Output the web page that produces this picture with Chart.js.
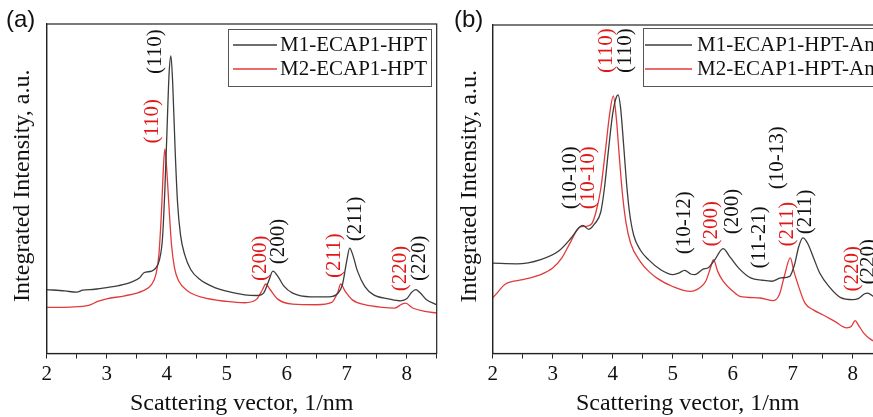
<!DOCTYPE html>
<html>
<head>
<meta charset="utf-8">
<script src="https://cdn.jsdelivr.net/npm/chart.js@4"></script>
<style>
  html, body { margin: 0; padding: 0; background: #fff; overflow: hidden; width: 873px; height: 417px; }
  .panel { position: absolute; top: 0; }
  .tag { position: absolute; top: 7px; font: 24px/24px "Liberation Sans", Arial, sans-serif; color: #111; }
</style>
</head>
<body>
<div class="panel" style="left:0"><canvas id="chartA" width="440" height="417"></canvas></div>
<div class="panel" style="left:440px"><canvas id="chartB" width="446" height="417"></canvas></div>
<div class="tag" style="left:6px">(a)</div>
<div class="tag" style="left:454px">(b)</div>
<script>
// panel (a): scattering vector q (1/nm) and intensity (a.u.)
const qA1 = [2.0, 2.3, 2.5, 2.6, 2.8, 3.0, 3.2, 3.4, 3.55, 3.62, 3.75, 3.82, 3.88, 3.93, 3.97, 4.0, 4.04, 4.07, 4.1, 4.14, 4.18, 4.23, 4.3, 4.4, 4.55, 4.8, 5.0, 5.3, 5.5, 5.62, 5.7, 5.77, 5.85, 5.95, 6.1, 6.4, 6.7, 6.85, 6.93, 7.0, 7.05, 7.1, 7.18, 7.3, 7.45, 7.7, 7.9, 8.0, 8.08, 8.15, 8.22, 8.32, 8.5];
const iA1 = [19.4, 19.0, 18.6, 19.2, 19.5, 20.0, 20.6, 21.6, 23.0, 24.5, 25.0, 26.0, 28.5, 35, 50, 65, 85, 90.3, 82, 62, 46, 36, 30, 25.5, 22.5, 20.0, 18.9, 17.8, 17.6, 18.5, 22, 25.0, 23.5, 20.5, 18.3, 17.2, 17.2, 18.2, 21, 28, 32.0, 30, 25, 20.4, 17.8, 16.6, 16.0, 16.6, 18.5, 19.4, 18.5, 16.5, 14.8];
const qA2 = [2.0, 2.4, 2.7, 2.85, 3.0, 3.3, 3.6, 3.75, 3.82, 3.87, 3.91, 3.95, 3.97, 4.0, 4.04, 4.08, 4.13, 4.2, 4.35, 4.6, 5.0, 5.3, 5.5, 5.6, 5.65, 5.72, 5.85, 6.1, 6.5, 6.75, 6.85, 6.9, 6.97, 7.1, 7.3, 7.6, 7.8, 7.92, 7.98, 8.1, 8.3, 8.5];
const iA2 = [14.0, 14.1, 14.6, 15.8, 16.6, 17.5, 19.0, 21.0, 24, 30, 42, 58, 62.1, 56, 44, 33, 26, 22, 19, 17, 15.8, 15.4, 16.5, 19.5, 21.1, 19.5, 16.5, 15.0, 14.8, 15.5, 18.5, 21.1, 19.0, 16.2, 14.8, 14.0, 13.8, 15.0, 15.3, 13.8, 12.8, 12.3];

// panel (b): annealed samples
const qB1 = [2.0, 2.4, 2.8, 3.1, 3.3, 3.45, 3.5, 3.6, 3.7, 3.8, 3.86, 3.93, 4.0, 4.06, 4.09, 4.13, 4.18, 4.23, 4.28, 4.35, 4.46, 4.6, 4.8, 5.0, 5.1, 5.2, 5.3, 5.37, 5.5, 5.6, 5.7, 5.84, 5.95, 6.1, 6.3, 6.5, 6.65, 6.8, 6.95, 7.03, 7.1, 7.17, 7.25, 7.35, 7.45, 7.6, 7.8, 8.0, 8.1, 8.2, 8.25, 8.35, 8.5];
const iB1 = [27.5, 27.3, 28.6, 31.2, 35.0, 38.5, 39.0, 37.8, 39.5, 43, 50, 62, 73, 78, 78.7, 75, 64, 52, 43, 36, 31.5, 28.5, 25.5, 24.0, 24.5, 25.3, 24.2, 24.0, 25.6, 26.2, 28.5, 31.9, 29.5, 26.0, 23.0, 22.3, 22.0, 23.0, 23.5, 27, 32.5, 35.2, 33.5, 29, 24.5, 20.5, 17.0, 16.4, 16.8, 18.2, 18.4, 17.3, 16.5];
const qB2 = [2.0, 2.1, 2.2, 2.35, 2.5, 2.8, 3.0, 3.15, 3.3, 3.45, 3.55, 3.65, 3.72, 3.8, 3.88, 3.95, 4.01, 4.06, 4.11, 4.16, 4.22, 4.3, 4.46, 4.6, 4.75, 5.0, 5.3, 5.45, 5.55, 5.62, 5.68, 5.75, 5.84, 6.0, 6.12, 6.46, 6.68, 6.78, 6.86, 6.96, 7.02, 7.09, 7.2, 7.35, 7.5, 7.7, 7.9, 7.98, 8.04, 8.1, 8.18, 8.3, 8.5];
const iB2 = [16.9, 19.0, 21.0, 22.0, 22.5, 24.0, 26.0, 29.0, 34.0, 38.5, 38.7, 39.5, 43, 50, 62, 73, 78.4, 71.7, 60, 49, 40, 33.5, 28, 25, 22.8, 20.4, 18.9, 20.0, 22.0, 25.5, 28.6, 25.0, 22.0, 19.0, 17.4, 16.9, 16.1, 18.0, 23.5, 29.1, 25.0, 20.9, 15.5, 13.2, 11.8, 9.8, 7.8, 8.3, 10.0, 8.5, 6.3, 4.3, 2.5];

const namesA = ["M1-ECAP1-HPT", "M2-ECAP1-HPT"];
const namesB = ["M1-ECAP1-HPT-Ann", "M2-ECAP1-HPT-Ann"];

// peak indices: text, q and intensity where the text starts, series (0 = M1, 1 = M2)
const peakTextA = ["(110)", "(110)", "(200)", "(200)", "(211)", "(211)", "(220)", "(220)"];
const peakQA = [3.82, 3.77, 5.56, 5.86, 6.80, 7.14, 7.90, 8.22];
const peakIA = [84.8, 63.7, 22.0, 27.1, 22.9, 34.1, 18.9, 22.0];
const peakSerA = [0, 1, 1, 0, 1, 0, 1, 0];

const peakTextB = ["(110)", "(110)", "(10-10)", "(10-10)", "(10-12)", "(200)", "(200)", "(11-21)", "(10-13)", "(211)", "(211)", "(220)", "(220)"];
const peakQB = [3.90, 4.21, 3.29, 3.59, 5.19, 5.64, 5.99, 6.45, 6.75, 6.91, 7.22, 7.99, 8.26];
const peakIB = [85.4, 85.4, 43.9, 43.9, 30.2, 32.6, 36.3, 25.9, 50.0, 32.6, 36.3, 18.9, 21.0];
const peakSerB = [1, 0, 0, 1, 0, 1, 0, 0, 0, 1, 0, 1, 0];

const lineColors = ["#3c3c3c", "#e23a3a"];
const textColors = ["#111", "#e01818"];
const serif = "'Liberation Serif', 'Times New Roman', serif";

const toPts = (q, v) => q.map((x, i) => ({ x: x, y: v[i] }));

const framePlugin = {
    id: "frame",
    afterDatasetsDraw(chart) {
        const a = chart.chartArea, ctx = chart.ctx;
        ctx.save();
        ctx.strokeStyle = "#222";
        ctx.lineWidth = 1.2;
        ctx.strokeRect(a.left, a.top, a.right - a.left, a.bottom - a.top);
        ctx.restore();
    }
};

const peakPlugin = {
    id: "peaks",
    afterDatasetsDraw(chart, args, opts) {
        const ctx = chart.ctx, xs = chart.scales.x, ys = chart.scales.y;
        ctx.save();
        ctx.font = "21px " + serif;
        ctx.textAlign = "left";
        ctx.textBaseline = "middle";
        opts.text.forEach((t, i) => {
            ctx.save();
            ctx.translate(xs.getPixelForValue(opts.q[i]), ys.getPixelForValue(opts.v[i]));
            ctx.rotate(-Math.PI / 2);
            ctx.fillStyle = textColors[opts.series[i]];
            ctx.fillText(t, 0, 0);
            ctx.restore();
        });
        ctx.restore();
    }
};

const boxLegend = {
    id: "boxLegend",
    afterDraw(chart, args, o) {
        const ctx = chart.ctx;
        ctx.save();
        ctx.fillStyle = "#fff";
        ctx.fillRect(o.x, o.y, o.w, o.h);
        ctx.strokeStyle = "#555";
        ctx.lineWidth = 1;
        ctx.strokeRect(o.x + 0.5, o.y + 0.5, o.w, o.h);
        ctx.font = "21px " + serif;
        ctx.textBaseline = "middle";
        chart.data.datasets.forEach((ds, i) => {
            const yy = o.rowY[i];
            ctx.strokeStyle = ds.borderColor;
            ctx.lineWidth = 1.3;
            ctx.beginPath();
            ctx.moveTo(o.lineX[0], yy);
            ctx.lineTo(o.lineX[1], yy);
            ctx.stroke();
            ctx.fillStyle = "#111";
            ctx.fillText(ds.label, o.textX, yy);
        });
        ctx.restore();
    }
};

function makeChart(id, series, names, peaks, lay) {
    return new Chart(document.getElementById(id), {
        type: "line",
        data: {
            datasets: series.map((s, i) => ({
                label: names[i],
                data: toPts(s[0], s[1]),
                borderColor: lineColors[i],
                borderWidth: 1.3,
                pointRadius: 0,
                cubicInterpolationMode: "monotone"
            }))
        },
        options: {
            responsive: false,
            animation: false,
            devicePixelRatio: 1,
            layout: { padding: { top: lay.top, right: lay.right, left: 0, bottom: -1.5 } },
            plugins: {
                legend: { display: false },
                tooltip: { enabled: false },
                peaks: peaks,
                boxLegend: lay.legend
            },
            scales: {
                x: {
                    type: "linear",
                    min: 2, max: 8.5,
                    ticks: {
                        stepSize: 0.5,
                        autoSkip: false,
                        maxRotation: 0,
                        padding: 3,
                        color: "#111",
                        font: { family: serif, size: 21 },
                        callback: v => Number.isInteger(v) ? v : ""
                    },
                    grid: { drawOnChartArea: false, tickLength: 5, color: "#222" },
                    border: { color: "#222", width: 1.2 },
                    title: {
                        display: true,
                        text: "Scattering vector, 1/nm",
                        color: "#111",
                        font: { family: serif, size: 24 },
                        padding: { top: 0, bottom: 0 }
                    }
                },
                y: {
                    min: 0, max: 100,
                    ticks: { display: false },
                    grid: { display: false, drawTicks: false },
                    border: { color: "#222", width: 1.2 },
                    title: {
                        display: true,
                        text: "\u00a0Integrated Intensity, a.u.",
                        color: "#111",
                        font: { family: serif, size: 24 },
                        padding: { top: lay.yTop, bottom: lay.yBottom }
                    }
                }
            }
        },
        plugins: [framePlugin, peakPlugin, boxLegend]
    });
}

makeChart("chartA", [[qA1, iA1], [qA2, iA2]], namesA,
    { text: peakTextA, q: peakQA, v: peakIA, series: peakSerA },
    { top: 24, right: 3.3, yTop: 8.7, yBottom: 9.2,
      legend: { x: 228, y: 29, w: 203, h: 57, lineX: [233, 277], rowY: [45, 69], textX: 280 } });

makeChart("chartB", [[qB1, iB1], [qB2, iB2]], namesB,
    { text: peakTextB, q: peakQB, v: peakIB, series: peakSerB },
    { top: 25, right: 3.3, yTop: 15.2, yBottom: 8.7,
      legend: { x: 203, y: 28, w: 300, h: 58, lineX: [205, 252], rowY: [45, 69], textX: 257 } });
</script>
</body>
</html>
